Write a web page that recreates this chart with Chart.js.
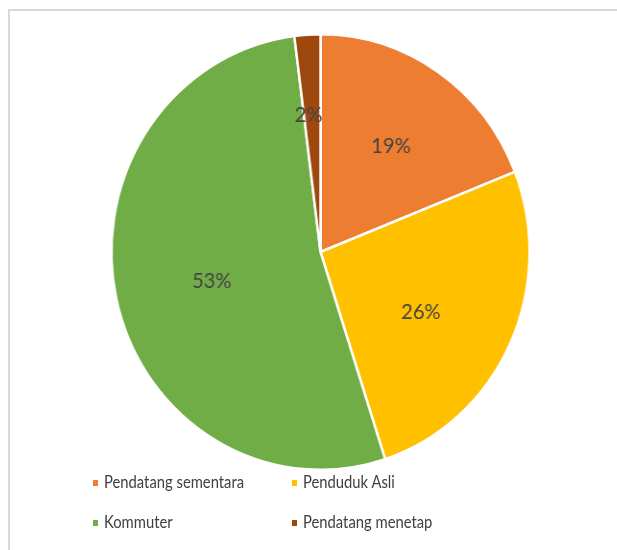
<!DOCTYPE html>
<html>
<head>
<meta charset="utf-8">
<script src="https://cdn.jsdelivr.net/npm/chart.js@4.4.1/dist/chart.umd.min.js"></script>
<style>
  html, body { margin: 0; padding: 0; background: #fff; }
  #wrap { position: relative; width: 617px; height: 550px; overflow: hidden; }
  #frame { position: absolute; left: 8px; top: 9px; width: 640px; height: 600px;
           border-left: 2px solid #d9d9d9; border-top: 2px solid #d9d9d9; }
  #stretch { position: absolute; left: 0; top: 0; width: 617px; height: 550px;
             transform: scaleX(0.96); transform-origin: 320.5px 0; }
  #legend { position: absolute; left: 0; top: 0; width: 617px; height: 550px;
            font-family: Lato, sans-serif; font-size: 17px; color: #404040; }
  .li { position: absolute; white-space: nowrap; line-height: 20px; }
  .sw { position: absolute; left: 0; top: 8px; width: 5px; height: 6px; }
  .tx { position: absolute; left: 11px; top: 0; transform: scaleX(0.87); transform-origin: 0 0; }
</style>
</head>
<body>
<div id="wrap">
  <div id="frame"></div>
  <div id="stretch"><canvas id="c" width="617" height="550"></canvas></div>
  <div id="legend"></div>
</div>
<script>
const categories = ["Pendatang sementara", "Penduduk Asli", "Kommuter", "Pendatang menetap"];
const shares = [19, 26, 53, 2];
const percentLabels = ["19%", "26%", "53%", "2%"];
const sliceColors = ["#ED7D31", "#FFC000", "#70AD47", "#9E480E"];

const labelPlugin = {
  id: 'sliceLabels',
  afterDatasetsDraw(chart, args, opts) {
    const ctx = chart.ctx;
    const meta = chart.getDatasetMeta(0);
    ctx.save();
    ctx.font = opts.font;
    ctx.fillStyle = opts.color;
    ctx.textAlign = 'center';
    ctx.textBaseline = 'middle';
    meta.data.forEach((arc, i) => {
      const p = arc.getProps(['x', 'y', 'startAngle', 'endAngle', 'outerRadius'], true);
      const mid = (p.startAngle + p.endAngle) / 2 + opts.angleShift[i] * Math.PI / 180;
      const r = p.outerRadius * opts.radii[i];
      ctx.fillText(percentLabels[i], p.x + Math.cos(mid) * r, p.y + Math.sin(mid) * r + opts.dy);
    });
    ctx.restore();
  }
};

const chart = new Chart(document.getElementById('c'), {
  type: 'pie',
  data: {
    labels: categories,
    datasets: [{
      data: shares,
      backgroundColor: sliceColors,
      borderColor: '#ffffff',
      borderWidth: 2.5
    }]
  },
  options: {
    responsive: false,
    animation: false,
    layout: { padding: { left: 24, right: 0, top: 33, bottom: 79 } },
    plugins: {
      legend: { display: false },
      tooltip: { enabled: false },
      sliceLabels: { font: '21px Lato', color: '#454545', dy: 2,
                     radii: [0.6, 0.55, 0.535, 0.64], angleShift: [0, 4, -1, -1.5] }
    }
  },
  plugins: [labelPlugin]
});

// legend (2 x 2 grid) built from the data arrays
const legendEl = document.getElementById('legend');
const cols = [93, 292];
const rows = [472, 512];
categories.forEach((name, i) => {
  const d = document.createElement('div');
  d.className = 'li';
  d.style.left = cols[i % 2] + 'px';
  d.style.top = rows[Math.floor(i / 2)] + 'px';
  d.innerHTML = '<span class="sw" style="background:' + sliceColors[i] + '"></span><span class="tx">' + name + '</span>';
  legendEl.appendChild(d);
});
</script>
</body>
</html>
